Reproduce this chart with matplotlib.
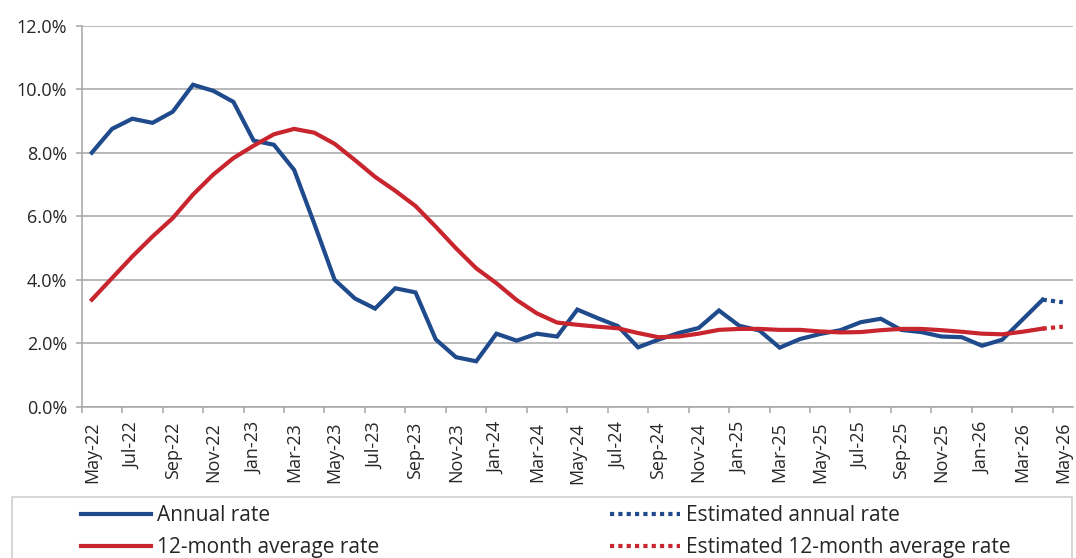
import matplotlib
matplotlib.use("Agg")
import matplotlib.pyplot as plt
import numpy as np
import pandas as pd
from matplotlib.lines import Line2D
from matplotlib.patches import Rectangle

plt.rcParams['font.family'] = ['Open Sans', 'DejaVu Sans']

# ---------------------------
# Data (in %)
# ---------------------------
months = pd.date_range('2022-05-01', periods=49, freq='MS').strftime('%b-%y').tolist()

annual_rate = [8.00, 8.75, 9.07, 8.94, 9.29, 10.14, 9.95, 9.60,
               8.38, 8.25, 7.46, 5.76, 4.00, 3.41, 3.09, 3.73, 3.60, 2.12, 1.56, 1.43,
               2.30, 2.08, 2.30, 2.21, 3.06, 2.79, 2.54, 1.87, 2.11, 2.32, 2.48, 3.03,
               2.55, 2.40, 1.86, 2.13, 2.29, 2.41, 2.66, 2.77, 2.42, 2.35, 2.21, 2.19,
               1.92, 2.11, 2.74, 3.37]
avg_rate = [3.37, 4.05, 4.73, 5.36, 5.94, 6.68, 7.31, 7.83,
            8.22, 8.58, 8.75, 8.63, 8.28, 7.77, 7.24, 6.80, 6.32, 5.67, 4.99, 4.36,
            3.89, 3.36, 2.94, 2.65, 2.58, 2.52, 2.47, 2.32, 2.19, 2.21, 2.30, 2.42,
            2.45, 2.45, 2.42, 2.42, 2.37, 2.34, 2.35, 2.41, 2.45, 2.45, 2.41, 2.36,
            2.30, 2.28, 2.36, 2.46]

# last actual month + estimate
est_annual = [3.37, 3.29]
est_avg = [2.46, 2.52]

c_blue = "#1F4A8C"
c_red = "#C8252E"
c_grid = "#A6A6A6"
c_text = "#262626"

W, H = 1076, 558
fig = plt.figure(figsize=(W / 100, H / 100), dpi=100)
ax = fig.add_axes([81.7 / W, 1 - 406.7 / H, (1073 - 81.7) / W, (406.7 - 25.7) / H])

x = np.arange(len(annual_rate))
x_est = np.arange(len(annual_rate) - 1, len(months))

ax.plot(x, annual_rate, color=c_blue, lw=3, solid_joinstyle='miter')
ax.plot(x_est, est_annual, color=c_blue, lw=3, linestyle=(0, (1, 1)), dash_capstyle='butt')
ax.plot(x, avg_rate, color=c_red, lw=3)
ax.plot(x_est, est_avg, color=c_red, lw=3, linestyle=(0, (1, 1)), dash_capstyle='butt')

# Axes
ax.set_xlim(-0.5, len(months) - 0.5)
ax.set_ylim(0, 12)
ax.set_yticks(np.arange(0, 12.1, 2))
ax.set_yticklabels([f"{v:.1f}%" for v in np.arange(0, 12.1, 2)])
ax.yaxis.grid(True, color=c_grid, lw=1.1)
ax.set_axisbelow(True)

ax.set_xticks(np.arange(-0.5, len(months) - 1, 2))
ax.set_xticklabels([])
ax.set_xticks(np.arange(0, len(months), 2), minor=True)
ax.set_xticklabels(months[::2], minor=True, rotation=90)

ax.tick_params(axis='y', length=4.5, width=1.1, color=c_grid, labelsize=13,
               labelcolor=c_text, pad=6)
ax.tick_params(axis='x', which='major', length=4.5, width=1.1, color=c_grid)
ax.tick_params(axis='x', which='minor', length=0, labelsize=13,
               labelcolor=c_text, pad=11)

for s in ['top', 'right']:
    ax.spines[s].set_visible(False)
for s in ['left', 'bottom']:
    ax.spines[s].set_color(c_grid)
    ax.spines[s].set_linewidth(1.1)

# ---------------------------
# Legend
# ---------------------------
fig.patches.append(Rectangle((12 / W, -0.1), (1072 - 12) / W, 0.1 + 1 - 497 / H,
                             transform=fig.transFigure, fill=False,
                             edgecolor="#D0D0D0", lw=1.2))

h_annual = Line2D([], [], color=c_blue, lw=3)
h_avg = Line2D([], [], color=c_red, lw=3)
h_est_annual = Line2D([], [], color=c_blue, lw=3, linestyle=(0, (1, 1)))
h_est_avg = Line2D([], [], color=c_red, lw=3, linestyle=(0, (1, 1)))

leg_kw = dict(loc='upper left', frameon=False, fontsize=15, handlelength=3.35,
              handletextpad=0.3, labelspacing=0.55, borderpad=0, borderaxespad=0,
              labelcolor=c_text)
fig.legend([h_annual, h_avg], ["Annual rate", "12-month average rate"],
           bbox_to_anchor=(81 / W, 1 - 505 / H), **leg_kw)
fig.legend([h_est_annual, h_est_avg], ["Estimated annual rate", "Estimated 12-month average rate"],
           bbox_to_anchor=(610 / W, 1 - 505 / H), **leg_kw)

fig.savefig("out.png", dpi=100)
